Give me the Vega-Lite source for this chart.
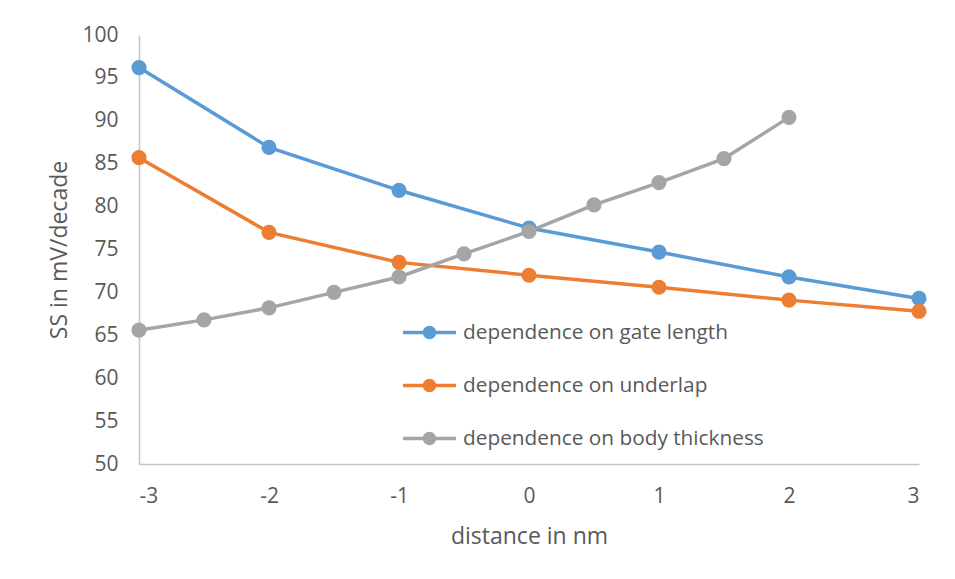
{
  "$schema": "https://vega.github.io/schema/vega-lite/v6.json",
  "autosize": {"type": "none"},
  "width": 780,
  "height": 429,
  "padding": {"left": 139, "top": 35, "right": 36, "bottom": 115},
  "background": "white",
  "config": {
    "view": {"stroke": null},
    "font": "Open Sans",
    "axis": {"labelColor": "#595959", "titleColor": "#595959", "labelFont": "Open Sans", "titleFont": "Open Sans", "labelFontSize": 21, "titleFontSize": 23, "titleFontWeight": "normal", "domainColor": "#c4c4c4", "domainWidth": 1.5, "grid": false, "ticks": false},
    "legend": {"labelFont": "Open Sans", "labelFontSize": 20.8, "labelColor": "#595959", "padding": 0, "labelLimit": 0}
  },
  "data": {"values": [
    {"series": "dependence on gate length", "d": -3, "ss": 96.2},
    {"series": "dependence on gate length", "d": -2, "ss": 86.9},
    {"series": "dependence on gate length", "d": -1, "ss": 81.9},
    {"series": "dependence on gate length", "d": 0, "ss": 77.5},
    {"series": "dependence on gate length", "d": 1, "ss": 74.7},
    {"series": "dependence on gate length", "d": 2, "ss": 71.8},
    {"series": "dependence on gate length", "d": 3, "ss": 69.3},
    {"series": "dependence on underlap", "d": -3, "ss": 85.7},
    {"series": "dependence on underlap", "d": -2, "ss": 77.0},
    {"series": "dependence on underlap", "d": -1, "ss": 73.5},
    {"series": "dependence on underlap", "d": 0, "ss": 72.0},
    {"series": "dependence on underlap", "d": 1, "ss": 70.6},
    {"series": "dependence on underlap", "d": 2, "ss": 69.1},
    {"series": "dependence on underlap", "d": 3, "ss": 67.8},
    {"series": "dependence on body thickness", "d": -3, "ss": 65.6},
    {"series": "dependence on body thickness", "d": -2.5, "ss": 66.8},
    {"series": "dependence on body thickness", "d": -2, "ss": 68.2},
    {"series": "dependence on body thickness", "d": -1.5, "ss": 70.0},
    {"series": "dependence on body thickness", "d": -1, "ss": 71.8},
    {"series": "dependence on body thickness", "d": -0.5, "ss": 74.5},
    {"series": "dependence on body thickness", "d": 0, "ss": 77.1},
    {"series": "dependence on body thickness", "d": 0.5, "ss": 80.2},
    {"series": "dependence on body thickness", "d": 1, "ss": 82.8},
    {"series": "dependence on body thickness", "d": 1.5, "ss": 85.6},
    {"series": "dependence on body thickness", "d": 2, "ss": 90.4}
  ]},
  "encoding": {
    "x": {"field": "d", "type": "quantitative", "scale": {"domain": [-3, 3], "nice": false, "zero": false}, "axis": {"values": [-3, -2, -1, 0, 1, 2, 3], "labelExpr": "toString(datum.value)", "title": "distance in nm", "labelPadding": 21, "titlePadding": 19}},
    "y": {"field": "ss", "type": "quantitative", "scale": {"domain": [50, 100], "nice": false, "zero": false}, "axis": {"values": [50, 55, 60, 65, 70, 75, 80, 85, 90, 95, 100], "title": "SS in mV/decade", "labelPadding": 21, "titlePadding": 10}},
    "color": {"field": "series", "type": "nominal",
      "scale": {"domain": ["dependence on gate length", "dependence on underlap", "dependence on body thickness"], "range": ["#5B9BD5", "#ED7D31", "#A5A5A5"]},
      "legend": {"orient": "none", "legendX": 262, "legendY": 269, "title": null,
        "symbolType": "M-1,0H1M0.19,0A0.19,0.19 0 1 1 -0.19,0A0.19,0.19 0 1 1 0.19,0Z",
        "symbolSize": 2809, "symbolStrokeWidth": 3.5, "rowPadding": 12, "labelOffset": 5,
        "encode": {"symbols": {"update": {"fill": {"scale": "color", "field": "value"}, "fillOpacity": {"value": 1}}}}}}
  },
  "layer": [
    {"mark": {"type": "line", "strokeWidth": 3.5}},
    {"mark": {"type": "point", "filled": true, "opacity": 1, "size": 230}}
  ]
}
